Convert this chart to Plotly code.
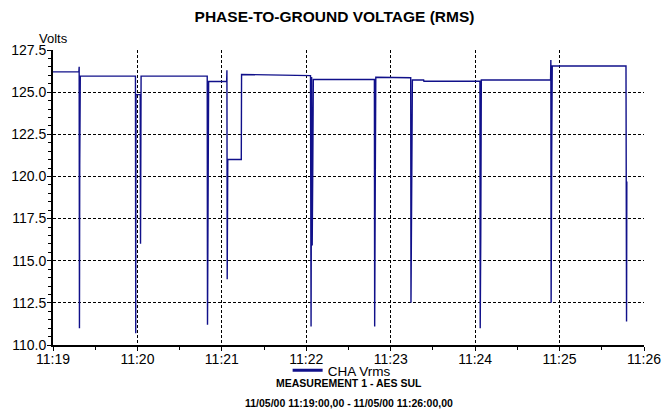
import pandas as pd
import plotly.graph_objects as go

# ---- data ----
start_time = "2000-05-11 11:19:00"
t_seconds = [0, 18.4, 18.6, 18.8, 19.0, 19.4,
             58.6, 58.8, 59.0, 62.0, 62.2, 62.6,
             109.6, 109.8, 110.2, 110.6,
             123.4, 123.6, 123.8, 124.2, 133.8, 134.0,
             183.0, 183.4, 183.8, 184.2, 184.6, 185.0,
             228.4, 228.6, 229.0, 229.4,
             254.2, 254.4, 254.8, 255.4, 263.4, 263.6,
             303.4, 303.6, 304.0, 304.4,
             353.6, 353.8, 354.0, 354.4, 354.8,
             407.2, 407.6, 407.8]
volts = [126.2, 126.2, 126.5, 111.0, 120.7, 125.95,
         125.95, 110.7, 124.85, 124.85, 116.0, 125.95,
         125.95, 111.2, 120.0, 125.63,
         125.63, 126.3, 113.9, 121.0, 121.0, 126.05,
         125.98, 111.1, 125.9, 115.9, 120.4, 125.75,
         125.75, 111.1, 119.3, 125.88,
         125.85, 112.5, 120.4, 125.72, 125.72, 125.65,
         125.65, 111.0, 116.5, 125.72,
         125.72, 126.9, 112.5, 121.2, 126.55,
         126.55, 111.4, 119.7]
series_name = "CHA Vrms"
title_text = "PHASE-TO-GROUND VOLTAGE (RMS)"
y_title = "Volts"
subtitle_1 = "MEASUREMENT 1 - AES SUL"
subtitle_2 = "11/05/00 11:19:00,00 - 11/05/00 11:26:00,00"
x_range = ["2000-05-11 11:19:00", "2000-05-11 11:26:00"]
y_range = [110.0, 127.5]

times = pd.to_datetime(start_time) + pd.to_timedelta(t_seconds, unit="s")

LINE = "#10108a"
FONT = "Liberation Sans, Arial, sans-serif"

PLOT_TOP, PLOT_BOTTOM = 50, 345
PH = PLOT_BOTTOM - PLOT_TOP

fig = go.Figure()
fig.add_trace(go.Scatter(x=times, y=volts, mode="lines",
                         line=dict(color=LINE, width=1.4),
                         showlegend=False, hoverinfo="skip"))
fig.add_trace(go.Scatter(x=[None], y=[None], mode="lines", name=series_name,
                         line=dict(color=LINE, width=3)))

fig.update_layout(
    width=669, height=413,
    margin=dict(l=53, r=25, t=PLOT_TOP, b=413 - PLOT_BOTTOM, autoexpand=False),
    paper_bgcolor="white", plot_bgcolor="white",
    font=dict(family=FONT, color="black", size=14),
    title=dict(text="<b>" + title_text + "</b>", x=0.5, xanchor="center",
               y=1 - 17 / 413, yanchor="middle", font=dict(size=15.5)),
    legend=dict(orientation="h", x=0.397, xanchor="left",
                y=-(370.5 - PLOT_BOTTOM) / PH, yanchor="middle",
                font=dict(size=13.5), itemwidth=30, bgcolor="rgba(0,0,0,0)",
                tracegroupgap=0),
    showlegend=True,
)

fig.update_xaxes(
    type="date", range=x_range, tickformat="%H:%M",
    tick0=x_range[0], dtick=60000,
    showgrid=True, gridcolor="black", gridwidth=1, griddash="3px,2px",
    showline=True, linecolor="black", linewidth=2,
    ticks="outside", ticklen=4, tickcolor="black", ticklabelstandoff=-4,
    minor=dict(dtick=30000, ticks="outside", ticklen=3, tickcolor="black", showgrid=False),
    tickfont=dict(size=14), zeroline=False,
)
fig.update_yaxes(
    range=y_range, dtick=2.5, tick0=110, tickformat=".1f",
    showgrid=True, gridcolor="black", gridwidth=1, griddash="3px,2px",
    showline=True, linecolor="black", linewidth=2,
    ticks="outside", ticklen=4, tickcolor="black", ticklabelstandoff=-2,
    minor=dict(dtick=0.5, ticks="outside", ticklen=3, tickcolor="black", showgrid=False),
    tickfont=dict(size=14), zeroline=False,
)

fig.add_annotation(text=y_title, xref="paper", yref="paper", x=0, y=1.0,
                   xanchor="center", yanchor="bottom", showarrow=False,
                   font=dict(size=13), yshift=2)
fig.add_annotation(text="<b>" + subtitle_1 + "</b>", xref="paper", yref="paper",
                   x=0.5, y=-(383 - PLOT_BOTTOM) / PH, xanchor="center", yanchor="middle",
                   showarrow=False, font=dict(size=10.5))
fig.add_annotation(text="<b>" + subtitle_2 + "</b>", xref="paper", yref="paper",
                   x=0.5, y=-(402.5 - PLOT_BOTTOM) / PH, xanchor="center", yanchor="middle",
                   showarrow=False, font=dict(size=10.5))

fig.write_html("out.html", config={"displayModeBar": False},
               post_script="document.body.style.margin='0';document.body.style.padding='0';")
